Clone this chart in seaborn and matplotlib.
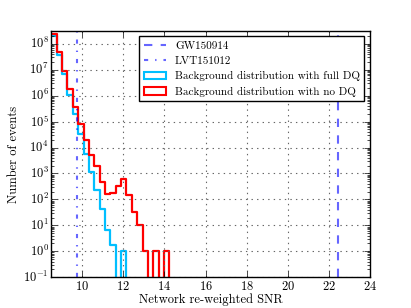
import numpy as np
import pandas as pd
import matplotlib
matplotlib.use("Agg")
import matplotlib.pyplot as plt
from matplotlib.lines import Line2D
from matplotlib.patches import Patch
import seaborn as sns

# Histogram data (events per bin)
bin_start = 8.5
bin_width = 0.261
counts_no_dq = [2.45e8, 4.9e7, 9.3e6, 1.8e6, 3.5e5, 7.8e4, 2.0e4, 5.2e3,
                2.0e3, 450, 165, 178, 330, 630, 150, 32, 10, 1, 0, 1, 0, 1, 0]
counts_full_dq = [1.95e8, 3.8e7, 6.9e6, 1.1e6, 2.0e5, 3.2e4, 5.8e3, 1.15e3,
                  230, 41, 6.5, 1.8, 0, 1, 0]

# Candidate events
gw150914_snr = 22.45
lvt151012_snr = 9.75

xticks = [10, 12, 14, 16, 18, 20, 22, 24]


def bin_edges(n):
    return list(bin_start + bin_width * np.arange(n + 1))


def draw_hist(ax, counts, color):
    edges = bin_edges(len(counts))
    centers = [0.5 * (a + b) for a, b in zip(edges[:-1], edges[1:])]
    df = pd.DataFrame({"snr": centers, "count": counts})
    sns.histplot(data=df, x="snr", weights="count", bins=edges,
                 element="step", fill=False, color=color, linewidth=1.6,
                 ax=ax)


plt.style.use("classic")
plt.rcParams["font.family"] = ["cmr10", "DejaVu Serif"]
plt.rcParams["mathtext.fontset"] = "cm"
plt.rcParams["axes.formatter.use_mathtext"] = True
plt.rcParams["axes.unicode_minus"] = False

fig, ax = plt.subplots(figsize=(4.11, 3.08), dpi=100)
fig.patch.set_facecolor("white")
fig.subplots_adjust(left=0.125, right=0.9, bottom=0.1, top=0.9)

draw_hist(ax, counts_full_dq, "#00bfff")
draw_hist(ax, counts_no_dq, "red")

ax.axvline(gw150914_snr, color="b", alpha=0.6, linestyle="--", linewidth=1.5)
ax.axvline(lvt151012_snr, color="b", alpha=0.6, linestyle="-.", linewidth=1.5)

ax.set_yscale("log")
ax.set_xlim(8.5, 24)
ax.set_ylim(0.1, 10 ** 8.5)
ax.set_xticks(xticks)
ax.set_xlabel("Network re-weighted SNR", fontsize=9, labelpad=0)
ax.set_ylabel("Number of events", fontsize=9, labelpad=2)
ax.tick_params(labelsize=9, pad=2)
ax.grid(True, color="0.4", linestyle=":", linewidth=0.8)

handles = [
    Line2D([], [], color="b", alpha=0.6, linestyle="--", linewidth=1.5),
    Line2D([], [], color="b", alpha=0.6, linestyle="-.", linewidth=1.5),
    Patch(facecolor="none", edgecolor="#00bfff", linewidth=1.5),
    Patch(facecolor="none", edgecolor="red", linewidth=1.5),
]
labels = ["GW150914", "LVT151012",
          "Background distribution with full DQ",
          "Background distribution with no DQ"]
ax.legend(handles, labels, loc="upper right", fontsize=8, numpoints=1,
          fancybox=False, framealpha=1)

fig.savefig("out.png", dpi=100, facecolor="white")
